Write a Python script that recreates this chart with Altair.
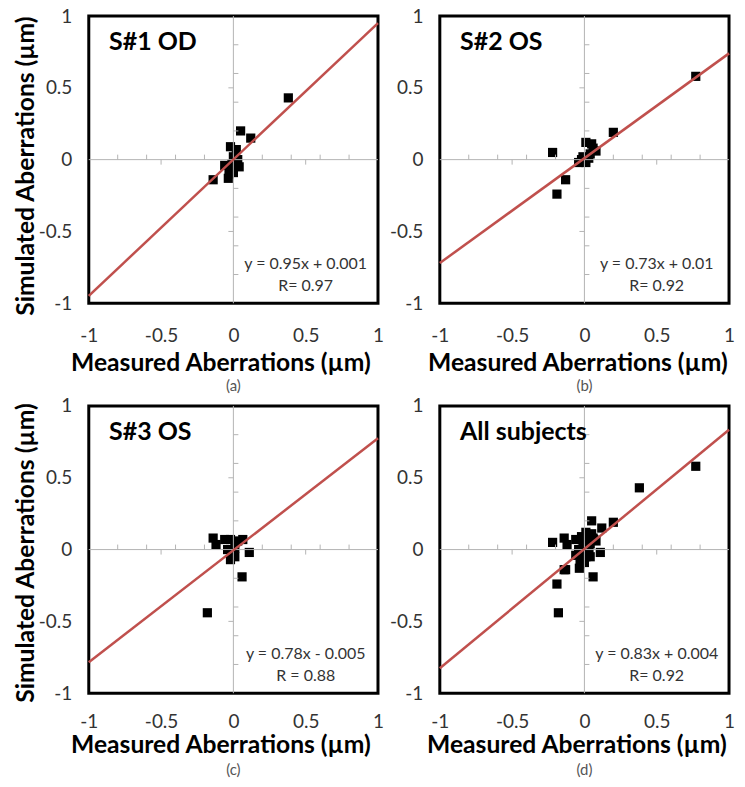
import altair as alt
import pandas as pd

# ---- data ----
s1_x = [0.38, 0.05, 0.12, -0.02, 0.02, 0.00, 0.03, -0.06, 0.04, -0.01, -0.14, -0.035, 0.00, -0.03]
s1_y = [0.43, 0.20, 0.15, 0.09, 0.07, 0.02, 0.00, -0.04, -0.05, -0.03, -0.14, -0.13, -0.09, -0.10]

s2_x = [0.77, 0.20, -0.22, -0.13, -0.19, 0.01, 0.05, 0.08, 0.04, -0.01, -0.04, 0.01, -0.02, 0.03, 0.06]
s2_y = [0.58, 0.19, 0.05, -0.14, -0.24, 0.12, 0.11, 0.06, 0.04, 0.02, -0.02, -0.02, 0.00, 0.01, 0.08]

s3_x = [-0.18, 0.06, 0.11, -0.14, -0.12, -0.06, -0.02, 0.03, 0.065, -0.04, 0.01, -0.02, 0.01, 0.00]
s3_y = [-0.44, -0.19, -0.02, 0.08, 0.035, 0.07, 0.07, 0.06, 0.07, 0.00, 0.01, -0.07, -0.05, -0.02]

panel_titles = ["S#1 OD", "S#2 OS", "S#3 OS", "All subjects"]
slopes = [0.95, 0.73, 0.78, 0.83]
intercepts = [0.001, 0.01, -0.005, 0.004]
equations = ["y = 0.95x + 0.001", "y = 0.73x + 0.01", "y = 0.78x - 0.005", "y = 0.83x + 0.004"]
r_labels = ["R= 0.97", "R= 0.92", "R = 0.88", "R= 0.92"]
captions = ["(a)", "(b)", "(c)", "(d)"]

axis_values = [-1, -0.5, 0, 0.5, 1]
minor_ticks = [-0.8, -0.6, -0.4, -0.2, 0.2, 0.4, 0.6, 0.8]
major_ticks = [-0.5, 0.5]

FONT = "Lato"
LINE_RED = "#C0504D"
GRAY = "#B4B4B4"

xs_all = [s1_x, s2_x, s3_x, s1_x + s2_x + s3_x]
ys_all = [s1_y, s2_y, s3_y, s1_y + s2_y + s3_y]


def panel(i, show_ytitle, xtitle_x, ytitle_y, xlabel_pad, xtitle_pad, cap_offset):
    pts = pd.DataFrame({"x": xs_all[i], "y": ys_all[i]})
    line_x = [-1, 1]
    line = pd.DataFrame({"x": line_x, "y": [slopes[i] * v + intercepts[i] for v in line_x]})
    zero = pd.DataFrame({"v": [0]})
    minor = pd.DataFrame({"t": minor_ticks})
    major = pd.DataFrame({"t": major_ticks})

    sc = alt.Scale(domain=[-1, 1], nice=False, zero=False)
    xaxis = alt.Axis(values=axis_values, labelExpr="datum.value + ''", grid=False, ticks=False,
                     domain=False, labelFlush=False, labelOverlap=False, labelPadding=xlabel_pad,
                     labelFontSize=19, labelFont=FONT, labelColor="#333333",
                     title="Measured Aberrations (µm)", titleFont=FONT, titleFontSize=24.7,
                     titleFontWeight="bold", titleColor="black", titlePadding=xtitle_pad,
                     titleX=xtitle_x, titleAlign="center")
    yaxis_kw = dict(values=axis_values, labelExpr="datum.value + ''", grid=False, ticks=False,
                    domain=False, labelFlush=False, labelOverlap=False, labelPadding=17,
                    labelFontSize=19, labelFont=FONT, labelColor="#333333")
    if show_ytitle:
        yaxis = alt.Axis(title="Simulated Aberrations (µm)", titleFont=FONT, titleFontSize=24.7,
                         titleFontWeight="bold", titleColor="black", titlePadding=0,
                         titleY=ytitle_y, titleAlign="center", **yaxis_kw)
    else:
        yaxis = alt.Axis(title=None, **yaxis_kw)

    pts_layer = alt.Chart(pts).mark_square(size=85, color="black", opacity=1).encode(
        x=alt.X("x:Q", scale=sc, axis=xaxis),
        y=alt.Y("y:Q", scale=sc, axis=yaxis),
    )
    hzero = alt.Chart(zero).mark_rule(color=GRAY, strokeWidth=1).encode(y="v:Q")
    vzero = alt.Chart(zero).mark_rule(color=GRAY, strokeWidth=1).encode(x="v:Q")
    x_minor = alt.Chart(minor).mark_rule(color=GRAY, strokeWidth=1, y2Offset=-5).encode(
        x="t:Q", y=alt.datum(0), y2=alt.datum(0))
    x_major = alt.Chart(major).mark_rule(color=GRAY, strokeWidth=1, y2Offset=5).encode(
        x="t:Q", y=alt.datum(0), y2=alt.datum(0))
    y_minor = alt.Chart(minor).mark_rule(color=GRAY, strokeWidth=1, x2Offset=5).encode(
        y="t:Q", x=alt.datum(0), x2=alt.datum(0))
    y_major = alt.Chart(major).mark_rule(color=GRAY, strokeWidth=1, x2Offset=-5).encode(
        y="t:Q", x=alt.datum(0), x2=alt.datum(0))
    fit = alt.Chart(line).mark_line(color=LINE_RED, strokeWidth=2.5).encode(x="x:Q", y="y:Q")
    title_txt = alt.Chart(zero).mark_text(
        text=panel_titles[i], align="left", baseline="middle", font=FONT, fontSize=25,
        fontWeight="bold", color="black").encode(x=alt.datum(-0.86), y=alt.datum(0.82))
    eq_txt = alt.Chart(zero).mark_text(
        text=equations[i], align="center", baseline="middle", font=FONT, fontSize=16,
        color="#333333").encode(x=alt.datum(0.5), y=alt.datum(-0.73))
    r_txt = alt.Chart(zero).mark_text(
        text=r_labels[i], align="center", baseline="middle", font=FONT, fontSize=16,
        color="#333333").encode(x=alt.datum(0.5), y=alt.datum(-0.88))

    return alt.layer(pts_layer, hzero, vzero, x_minor, x_major, y_minor, y_major, fit,
                     title_txt, eq_txt, r_txt).properties(
        width=290, height=288,
        title=alt.TitleParams(captions[i], orient="bottom", font=FONT, fontSize=15,
                              fontWeight="normal", color="#555555", offset=cap_offset),
    )


chart = alt.concat(
    panel(0, True, 132, 150, 23, 5, 4),
    panel(1, False, 138, 150, 23, 5, 4),
    panel(2, True, 132, 147, 19, 1, 6),
    panel(3, False, 137, 147, 19, 1, 6),
    columns=2,
    spacing={"row": 103, "column": 62},
    bounds="flush",
).properties(
    padding={"left": 3, "top": -4, "right": 0, "bottom": -3}
).configure_view(stroke="black", strokeWidth=3)

chart.save("out.html", embed_options={"renderer": "svg", "actions": False})
